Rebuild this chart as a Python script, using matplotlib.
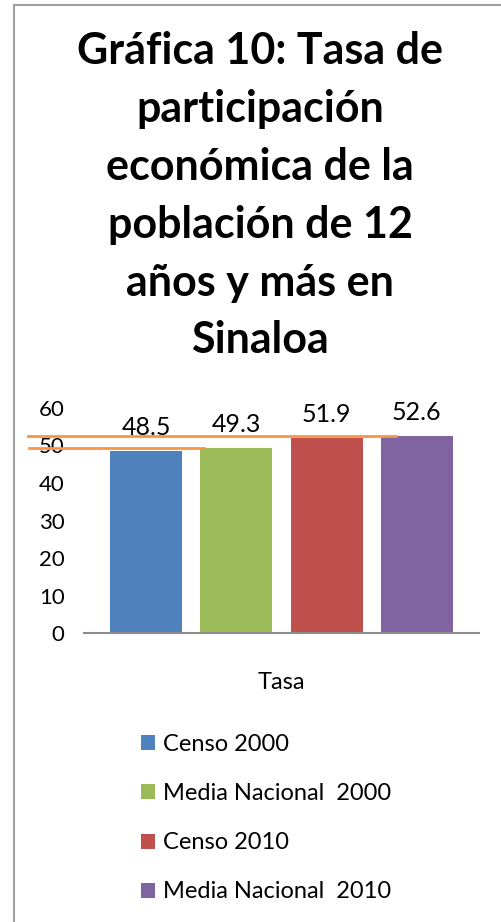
import matplotlib
matplotlib.use("Agg")
import matplotlib.pyplot as plt
import matplotlib.transforms as mtransforms
import numpy as np

# Series shown as four bars of the single category "Tasa"
series = ["Censo 2000", "Media Nacional  2000", "Censo 2010", "Media Nacional  2010"]
values = [48.5, 49.3, 51.9, 52.6]
colors = ["#4F81BD", "#9BBB59", "#C0504D", "#8064A2"]
category = "Tasa"
yticks = [0, 10, 20, 30, 40, 50, 60]
title = "Gráfica 10: Tasa de\nparticipación\neconómica de la\npoblación de 12\naños y más en\nSinaloa"
# National averages marked with orange reference lines
nat_avg_2000 = values[1]
nat_avg_2010 = values[3]

plt.rcParams["font.family"] = ["Lato", "DejaVu Sans"]

fig = plt.figure(figsize=(5.01, 9.22), dpi=100)
ax = fig.add_axes([0.1677, 0.3134, 0.7884, 0.2441])

x = (np.arange(len(values)) - 1.5)
bars = ax.bar(x, values, width=0.8, color=colors, label=series)
for xi, v in zip(x, values):
    ax.annotate("%.1f" % v, (xi, v), xytext=(0, 17), textcoords="offset points",
                ha="center", va="center", fontsize=18)

ax.set_xlim(-2.19, 2.19)
ax.set_ylim(0, 60)
ax.set_yticks(yticks)
ax.tick_params(axis="y", length=0, labelsize=16, pad=14)
ax.set_xticks([])
ax.set_xlabel(category, fontsize=17, labelpad=28)
for s in ["top", "right", "left"]:
    ax.spines[s].set_visible(False)
ax.spines["bottom"].set_color("#8C8C8C")
ax.spines["bottom"].set_linewidth(1.5)

# orange reference lines, reaching into the tick label area
trans = mtransforms.blended_transform_factory(ax.transAxes, ax.transData)
ax.plot([-0.14, 0.305], [nat_avg_2000, nat_avg_2000], transform=trans, color="#F79646",
        lw=2, clip_on=False)
ax.plot([-0.142, 0.79], [nat_avg_2010, nat_avg_2010], transform=trans, color="#F79646",
        lw=2, clip_on=False)

fig.text(0.519, 0.966, title, ha="center", va="top", fontsize=31, fontweight="bold",
         linespacing=1.54)

fig.legend(handles=bars, labels=series, loc="upper left", bbox_to_anchor=(0.262, 0.214),
           frameon=False, fontsize=17, handlelength=0.6, handleheight=0.6,
           labelspacing=1.19, handletextpad=0.35, borderaxespad=0)

# thin gray frame (top and left edges visible)
fig.add_artist(plt.Line2D([0.027, 1.0], [0.995, 0.995], color="#A0A0A0", lw=1.5))
fig.add_artist(plt.Line2D([0.027, 0.027], [0.0, 0.995], color="#A0A0A0", lw=1.5))

fig.savefig("out.png", dpi=100)
